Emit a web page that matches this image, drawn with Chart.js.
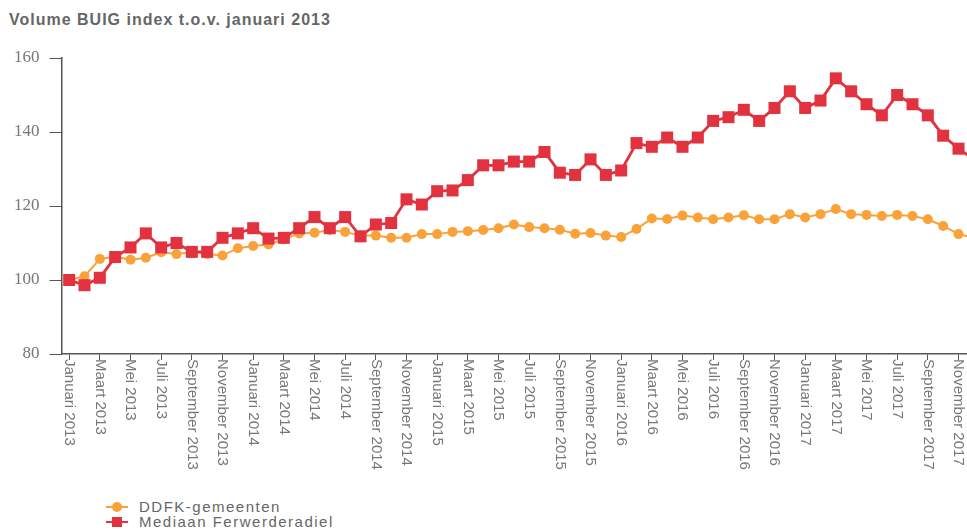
<!DOCTYPE html>
<html lang="nl">
  <head>
    <meta charset="utf-8" />
    <title>Volume BUIG index</title>
    <style>
      body {
        margin: 0;
        width: 967px;
        height: 532px;
        overflow: hidden;
        background: #fff;
        position: relative;
        font-family: "Liberation Sans", Arial, sans-serif;
      }
      #titel {
        position: absolute;
        left: 9px;
        top: 11px;
        font-weight: bold;
        font-size: 16px;
        color: #666;
        letter-spacing: 1px;
      }
      .chart-wrap {
        position: absolute;
        left: 0;
        top: 0;
        width: 990px;
        height: 490px;
      }
      #legenda {
        position: absolute;
        left: 106px;
        top: 499px;
        font-size: 15px;
        letter-spacing: 1.5px;
        color: #666;
        line-height: 15px;
      }
      #legenda div {
        display: flex;
        align-items: center;
      }
      #legenda svg {
        margin-right: 11px;
      }
    </style>
  </head>
  <body>
    <div id="titel">Volume BUIG index t.o.v. januari 2013</div>
    <div class="chart-wrap">
      <canvas id="buig" width="990" height="490"></canvas>
    </div>
    <div id="legenda"></div>

    <script src="https://cdn.jsdelivr.net/npm/chart.js@4.4.1/dist/chart.umd.min.js"></script>
    <script>
      // maanden en jaren voor de x-as
      const maanden = ["Januari", "Februari", "Maart", "April", "Mei", "Juni", "Juli", "Augustus", "September", "Oktober", "November", "December"];
      const jaren = [2013, 2014, 2015, 2016, 2017];

      const ddfk = [
        100, 101, 105.7, 106.3, 105.5, 106, 107.5, 107, 107.5, 107, 106.6, 108.6,
        109.2, 109.6, 111, 112.6, 112.8, 113.5, 113, 112, 112, 111.4, 111.4, 112.4,
        112.4, 113, 113.2, 113.5, 114, 115, 114.3, 114, 113.6, 112.5, 112.7, 112,
        111.6, 113.8, 116.6, 116.5, 117.4, 116.9, 116.4, 116.9, 117.5, 116.4, 116.4, 117.8,
        116.9, 117.8, 119.2, 117.8, 117.6, 117.3, 117.6, 117.3, 116.4, 114.6, 112.4, 111.4
      ];
      const ferwerderadiel = [
        100, 98.6, 100.6, 106.2, 108.8, 112.6, 108.8, 110, 107.6, 107.6, 111.4, 112.6,
        114, 111.2, 111.4, 114, 117, 114, 117, 111.8, 115, 115.4, 121.8, 120.4,
        124, 124.2, 127, 131, 131, 132, 132, 134.6, 129, 128.4, 132.6, 128.4,
        129.6, 137, 136, 138.5, 136, 138.5, 143, 144, 146, 143, 146.5, 151,
        146.5, 148.5, 154.5, 151, 147.5, 144.5, 150, 147.5, 144.5, 139, 135.5, 132.6
      ];
      const yTicks = [80, 100, 120, 140, 160];

      const labels = [];
      jaren.forEach((j) => maanden.forEach((m) => labels.push(m + " " + j)));

      const series = [
        { label: "DDFK-gemeenten", data: ddfk, color: "#f9a23a", style: "circle", radius: 5, width: 2, order: 1 },
        { label: "Mediaan Ferwerderadiel", data: ferwerderadiel, color: "#e2323f", style: "rect", radius: 8.5, width: 2.8, order: 0 },
      ];

      // verticale labels, van boven naar beneden gelezen
      const verticaleLabels = {
        id: "verticaleLabels",
        afterDraw(chart) {
          const sc = chart.scales.x;
          const ctx = chart.ctx;
          ctx.save();
          ctx.fillStyle = "#777";
          ctx.font = "15px 'Liberation Sans', Arial, sans-serif";
          ctx.textAlign = "left";
          ctx.textBaseline = "middle";
          labels.forEach((l, i) => {
            if (i % 2) return;
            const x = sc.getPixelForValue(i);
            ctx.save();
            ctx.translate(x, sc.top + 5);
            ctx.rotate(Math.PI / 2);
            ctx.fillText(l, 0, 0);
            ctx.restore();
          });
          ctx.restore();
        },
      };

      const asKleur = "#555";
      const tickKleur = (c) => (c.index % 2 ? "rgba(0,0,0,0)" : asKleur);

      new Chart(document.getElementById("buig"), {
        type: "line",
        data: {
          labels: labels,
          datasets: series.map((s) => ({
            label: s.label,
            data: s.data,
            order: s.order,
            borderColor: s.color,
            backgroundColor: s.color,
            borderWidth: s.width,
            pointStyle: s.style,
            pointRadius: s.radius,
            pointBorderWidth: 0,
            tension: 0,
          })),
        },
        options: {
          responsive: false,
          devicePixelRatio: 1,
          animation: false,
          events: [],
          layout: { padding: { left: 4, top: 58, right: 3, bottom: 130 } },
          plugins: { legend: { display: false }, title: { display: false }, tooltip: { enabled: false } },
          scales: {
            x: {
              type: "category",
              offset: true,
              border: { color: asKleur, width: 1.5 },
              grid: { drawOnChartArea: false, tickLength: 6, color: tickKleur, tickColor: tickKleur },
              ticks: { display: false, autoSkip: false },
            },
            y: {
              min: yTicks[0],
              max: yTicks[yTicks.length - 1],
              border: { color: asKleur, width: 1.5 },
              grid: { drawOnChartArea: false, tickLength: 12, color: asKleur },
              afterBuildTicks: (sc) => { sc.ticks = yTicks.map((v) => ({ value: v })); },
              ticks: {
                color: "#777",
                padding: 10,
                font: { family: "'Liberation Serif', serif", size: 17 },
              },
            },
          },
        },
        plugins: [verticaleLabels],
      });

      // legenda
      const leg = document.getElementById("legenda");
      series.forEach((s) => {
        const rij = document.createElement("div");
        const mark = s.style === "rect"
          ? `<rect x="6" y="2" width="10" height="10" fill="${s.color}"/>`
          : `<circle cx="11" cy="7" r="5" fill="${s.color}"/>`;
        rij.innerHTML = `<svg width="22" height="14"><line x1="0" y1="7" x2="22" y2="7" stroke="${s.color}" stroke-width="2"/>${mark}</svg><span>${s.label}</span>`;
        leg.appendChild(rij);
      });
    </script>
  </body>
</html>
